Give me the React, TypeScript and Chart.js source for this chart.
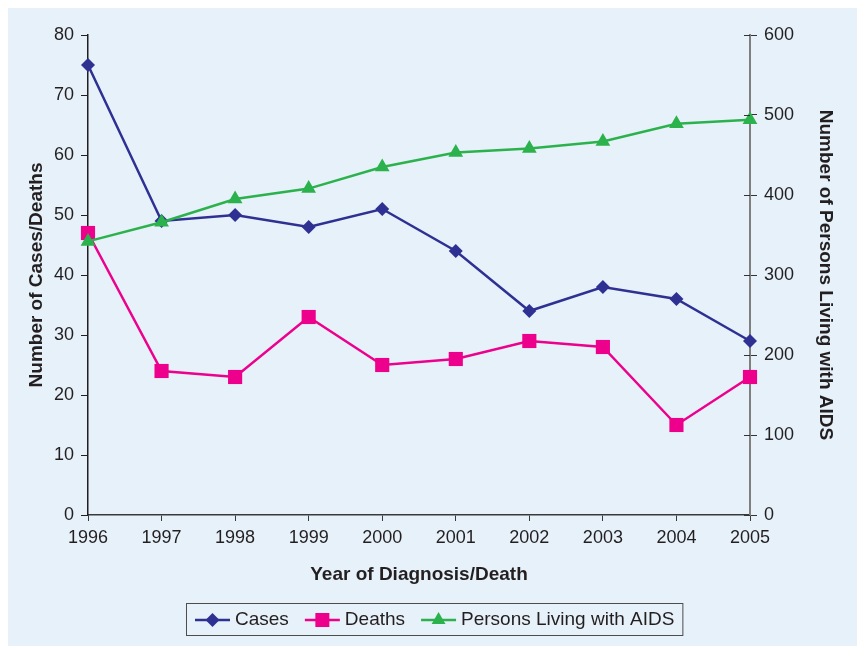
import React, { useEffect, useRef } from 'react';
import { Chart, registerables } from 'chart.js';

Chart.register(...registerables);

const years = ['1996', '1997', '1998', '1999', '2000', '2001', '2002', '2003', '2004', '2005'];
const cases = [75, 49, 50, 48, 51, 44, 34, 38, 36, 29];
const deaths = [47, 24, 23, 33, 25, 26, 29, 28, 15, 23];
const living = [342, 366, 395, 408, 435, 453, 458, 467, 489, 494];

const leftAxis = { min: 0, max: 80, step: 10, title: 'Number of Cases/Deaths' };
const rightAxis = { min: 0, max: 600, step: 100, title: 'Number of Persons Living with AIDS' };
const xTitle = 'Year of Diagnosis/Death';
const seriesNames = ['Cases', 'Deaths', 'Persons Living with AIDS'];

const COLORS = { cases: '#2E3192', deaths: '#EC008C', living: '#2BB24C' };
const FONT = '"Liberation Sans", Arial, Helvetica, sans-serif';
const TEXT = '#231F20';
const BG = '#E7F1FA';

function drawMarker(ctx: CanvasRenderingContext2D, style: string, x: number, y: number, color: string) {
  ctx.fillStyle = color;
  ctx.beginPath();
  if (style === 'rectRot') {
    const r = 7;
    ctx.moveTo(x, y - r);
    ctx.lineTo(x + r, y);
    ctx.lineTo(x, y + r);
    ctx.lineTo(x - r, y);
  } else if (style === 'rect') {
    const s = 7;
    ctx.rect(x - s, y - s, 2 * s, 2 * s);
  } else {
    const r = 8;
    ctx.moveTo(x, y - r);
    ctx.lineTo(x + r * 0.866, y + r * 0.5);
    ctx.lineTo(x - r * 0.866, y + r * 0.5);
  }
  ctx.closePath();
  ctx.fill();
}

const legendPlugin = {
  id: 'customLegend',
  afterDraw(chart: any) {
    const ctx: CanvasRenderingContext2D = chart.ctx;
    const items = [
      { label: seriesNames[0], color: COLORS.cases, style: 'rectRot' },
      { label: seriesNames[1], color: COLORS.deaths, style: 'rect' },
      { label: seriesNames[2], color: COLORS.living, style: 'triangle' },
    ];
    ctx.save();
    ctx.font = `19px ${FONT}`;
    const lineW = 35, gapText = 5, gapItem = 16, padL = 9, padR = 8;
    const widths = items.map((it) => ctx.measureText(it.label).width);
    let total = padL + padR + gapItem * (items.length - 1);
    widths.forEach((w) => (total += lineW + gapText + w));
    const left = Math.round(426 - total / 2);
    const top = 595;
    const h = 32;
    ctx.strokeStyle = '#4D4D4D';
    ctx.lineWidth = 1;
    ctx.strokeRect(left + 0.5, top + 0.5, total, h);
    const cy = top + h / 2 + 1;
    let x = left + padL;
    items.forEach((it, i) => {
      ctx.strokeStyle = it.color;
      ctx.lineWidth = 2.5;
      ctx.beginPath();
      ctx.moveTo(x, cy);
      ctx.lineTo(x + lineW, cy);
      ctx.stroke();
      drawMarker(ctx, it.style, x + lineW / 2, cy, it.color);
      ctx.fillStyle = TEXT;
      ctx.textAlign = 'left';
      ctx.textBaseline = 'middle';
      ctx.fillText(it.label, x + lineW + gapText, cy);
      x += lineW + gapText + widths[i] + gapItem;
    });
    ctx.restore();
  },
};

const rightTickPlugin = {
  id: 'rightInnerTicks',
  afterDraw(chart: any) {
    const scale = chart.scales.y1;
    const ctx: CanvasRenderingContext2D = chart.ctx;
    ctx.save();
    ctx.strokeStyle = '#333333';
    ctx.lineWidth = 1;
    scale.ticks.forEach((t: any) => {
      const y = Math.round(scale.getPixelForValue(t.value)) + 0.5;
      ctx.beginPath();
      ctx.moveTo(scale.left - 6, y);
      ctx.lineTo(scale.left, y);
      ctx.stroke();
    });
    ctx.restore();
  },
};

export default function App() {
  const ref = useRef<HTMLCanvasElement | null>(null);

  useEffect(() => {
    document.body.style.marginRight = '0';
    document.body.style.marginBottom = '0';
    const canvas = ref.current;
    if (!canvas) return;
    const chart = new Chart(canvas, {
      type: 'line',
      data: {
        labels: years,
        datasets: [
          {
            label: seriesNames[0],
            data: cases,
            yAxisID: 'y',
            borderColor: COLORS.cases,
            backgroundColor: COLORS.cases,
            borderWidth: 2.5,
            pointStyle: 'rectRot',
            pointRadius: 7,
            pointBorderWidth: 0,
            tension: 0,
            clip: false as any,
            order: 2,
          },
          {
            label: seriesNames[1],
            data: deaths,
            yAxisID: 'y',
            borderColor: COLORS.deaths,
            backgroundColor: COLORS.deaths,
            borderWidth: 2.5,
            pointStyle: 'rect',
            pointRadius: 10,
            pointBorderWidth: 0,
            tension: 0,
            clip: false as any,
            order: 1,
          },
          {
            label: seriesNames[2],
            data: living,
            yAxisID: 'y1',
            borderColor: COLORS.living,
            backgroundColor: COLORS.living,
            borderWidth: 2.5,
            pointStyle: 'triangle',
            pointRadius: 8.5,
            pointBorderWidth: 0,
            tension: 0,
            clip: false as any,
            order: 0,
          },
        ],
      },
      options: {
        animation: false,
        responsive: false,
        maintainAspectRatio: false,
        layout: { padding: { top: 27, left: 0, right: 0, bottom: 58 } },
        plugins: {
          legend: { display: false },
          tooltip: { enabled: false },
        },
        scales: {
          x: {
            type: 'category',
            offset: false,
            afterFit: (s: any) => {
              s.height = 73;
            },
            grid: {
              drawOnChartArea: false,
              drawTicks: true,
              tickLength: 6,
              color: '#3A3A3A',
            },
            border: { color: '#3A3A3A', width: 1.5 },
            ticks: {
              color: TEXT,
              font: { family: FONT, size: 18 },
              padding: 6,
              maxRotation: 0,
              autoSkip: false,
            },
            title: {
              display: true,
              text: xTitle,
              color: TEXT,
              font: { family: FONT, size: 19, weight: 'bold' },
              padding: { top: 0, bottom: 1.6 },
            },
          },
          y: {
            position: 'left',
            min: leftAxis.min,
            max: leftAxis.max,
            afterFit: (s: any) => {
              s.width = 80;
            },
            grid: {
              drawOnChartArea: false,
              drawTicks: true,
              tickLength: 7,
              color: '#231F20',
            },
            border: { color: '#231F20', width: 1.5 },
            ticks: {
              stepSize: leftAxis.step,
              color: TEXT,
              font: { family: FONT, size: 18 },
              padding: 7,
            },
            title: {
              display: true,
              text: leftAxis.title,
              color: TEXT,
              font: { family: FONT, size: 19, weight: 'bold' },
              padding: { top: 17, bottom: 0 },
            },
          },
          y1: {
            position: 'right',
            min: rightAxis.min,
            max: rightAxis.max,
            z: 1,
            afterFit: (s: any) => {
              s.width = 107;
            },
            grid: {
              drawOnChartArea: false,
              drawTicks: true,
              tickLength: 7,
              color: '#333333',
            },
            border: { color: '#7F7F7F', width: 2 },
            ticks: {
              stepSize: rightAxis.step,
              color: TEXT,
              font: { family: FONT, size: 18 },
              padding: 7,
            },
            title: {
              display: true,
              text: rightAxis.title,
              color: TEXT,
              font: { family: FONT, size: 19, weight: 'bold' },
              padding: { top: 20.6, bottom: 0 },
            },
          },
        },
      } as any,
      plugins: [legendPlugin, rightTickPlugin],
    });
    return () => chart.destroy();
  }, []);

  return (
    <div style={{ width: 849, height: 638, background: BG }}>
      <canvas ref={ref} width={849} height={638} style={{ display: 'block', width: 849, height: 638 }} />
    </div>
  );
}
